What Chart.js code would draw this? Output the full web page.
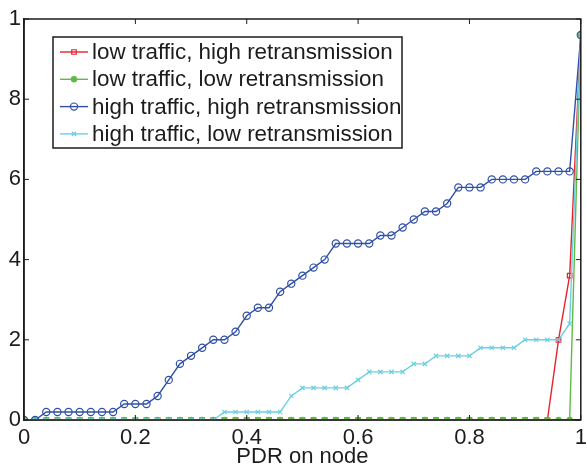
<!DOCTYPE html>
<html>
<head>
<meta charset="utf-8">
<script src="https://cdn.jsdelivr.net/npm/chart.js@4/dist/chart.umd.min.js"></script>
<style>
  html, body { margin: 0; padding: 0; background: #fff; }
  #wrap { width: 586px; height: 466px; }
</style>
</head>
<body>
<div id="wrap"><canvas id="pdr-chart" width="586" height="466"></canvas></div>
<script>
// PDR on node, x values
var pdrValues = [0, 0.02, 0.04, 0.06, 0.08, 0.1, 0.12, 0.14, 0.16, 0.18,
    0.2, 0.22, 0.24, 0.26, 0.28, 0.3, 0.32, 0.34, 0.36, 0.38,
    0.4, 0.42, 0.44, 0.46, 0.48, 0.5, 0.52, 0.54, 0.56, 0.58,
    0.6, 0.62, 0.64, 0.66, 0.68, 0.7, 0.72, 0.74, 0.76, 0.78,
    0.8, 0.82, 0.84, 0.86, 0.88, 0.9, 0.92, 0.94, 0.96, 0.98, 1];

var lowHighRetx = [0, 0, 0, 0, 0, 0, 0, 0, 0, 0,
    0, 0, 0, 0, 0, 0, 0, 0, 0, 0,
    0, 0, 0, 0, 0, 0, 0, 0, 0, 0,
    0, 0, 0, 0, 0, 0, 0, 0, 0, 0,
    0, 0, 0, 0, 0, 0, 0, 0, 0.2, 0.36, 0.96];

var lowLowRetx = [0, 0, 0, 0, 0, 0, 0, 0, 0, 0,
    0, 0, 0, 0, 0, 0, 0, 0, 0, 0,
    0, 0, 0, 0, 0, 0, 0, 0, 0, 0,
    0, 0, 0, 0, 0, 0, 0, 0, 0, 0,
    0, 0, 0, 0, 0, 0, 0, 0, 0, 0, 0.96];

var highHighRetx = [0, 0, 0.02, 0.02, 0.02, 0.02, 0.02, 0.02, 0.02, 0.04,
    0.04, 0.04, 0.06, 0.1, 0.14, 0.16, 0.18, 0.2, 0.2, 0.22,
    0.26, 0.28, 0.28, 0.32, 0.34, 0.36, 0.38, 0.4, 0.44, 0.44,
    0.44, 0.44, 0.46, 0.46, 0.48, 0.5, 0.52, 0.52, 0.54, 0.58,
    0.58, 0.58, 0.6, 0.6, 0.6, 0.6, 0.62, 0.62, 0.62, 0.62, 0.96];

var highLowRetx = [0, 0, 0, 0, 0, 0, 0, 0, 0, 0,
    0, 0, 0, 0, 0, 0, 0, 0, 0.02, 0.02,
    0.02, 0.02, 0.02, 0.02, 0.06, 0.08, 0.08, 0.08, 0.08, 0.08,
    0.1, 0.12, 0.12, 0.12, 0.12, 0.14, 0.14, 0.16, 0.16, 0.16,
    0.16, 0.18, 0.18, 0.18, 0.18, 0.2, 0.2, 0.2, 0.2, 0.24, 0.96];

var seriesLabels = ['low traffic, high retransmission', 'low traffic, low retransmission',
    'high traffic, high retransmission', 'high traffic, low retransmission'];
var seriesColors = ['#e8212b', '#62b946', '#3050a6', '#6ccfe2'];
var xTickValues = [0, 0.2, 0.4, 0.6, 0.8, 1];

var FONT = '"Liberation Sans", Arial, sans-serif';
var INK = '#1c1c1c';

function toPoints(values) {
    var pts = [];
    for (var i = 0; i < values.length; ++i) {
        pts.push({x: pdrValues[i], y: values[i]});
    }
    return pts;
}

var markerStyles = [
    {pointStyle: 'rect', radius: 3.2, fill: 'rgba(0,0,0,0)'},
    {pointStyle: 'circle', radius: 2.6, fill: null},
    {pointStyle: 'circle', radius: 3.6, fill: 'rgba(0,0,0,0)'},
    {pointStyle: 'crossRot', radius: 3, fill: null}
];
var allSeries = [lowHighRetx, lowLowRetx, highHighRetx, highLowRetx];

var datasets = [];
for (var s = 0; s < allSeries.length; ++s) {
    datasets.push({
        label: seriesLabels[s],
        data: toPoints(allSeries[s]),
        borderColor: seriesColors[s],
        borderWidth: 1.4,
        pointStyle: markerStyles[s].pointStyle,
        pointRadius: markerStyles[s].radius,
        pointBorderWidth: 1.2,
        pointBorderColor: seriesColors[s],
        pointBackgroundColor: markerStyles[s].fill || seriesColors[s],
        tension: 0,
        fill: false,
        order: allSeries.length - s   // later series drawn on top, like MATLAB
    });
}

// box around plot, inward ticks and the boxed legend
var frameAndLegend = {
    id: 'frameAndLegend',
    afterDraw: function (chart) {
        var ctx = chart.ctx;
        var a = chart.chartArea;
        var xs = chart.scales.x, ys = chart.scales.y;
        ctx.save();
        ctx.strokeStyle = INK;
        ctx.lineWidth = 1.5;
        ctx.strokeRect(a.left, a.top, a.right - a.left, a.bottom - a.top);
        ctx.lineWidth = 1;
        ctx.beginPath();
        xs.ticks.forEach(function (t) {
            var px = xs.getPixelForValue(t.value);
            ctx.moveTo(px, a.bottom); ctx.lineTo(px, a.bottom - 5);
            ctx.moveTo(px, a.top); ctx.lineTo(px, a.top + 5);
        });
        ys.ticks.forEach(function (t) {
            var py = ys.getPixelForValue(t.value);
            ctx.moveTo(a.left, py); ctx.lineTo(a.left + 5, py);
            ctx.moveTo(a.right, py); ctx.lineTo(a.right - 5, py);
        });
        ctx.stroke();

        // legend
        var box = {left: 53, top: 37, right: 402, bottom: 148};
        ctx.fillStyle = '#fff';
        ctx.fillRect(box.left, box.top, box.right - box.left, box.bottom - box.top);
        ctx.lineWidth = 1.5;
        ctx.strokeStyle = INK;
        ctx.strokeRect(box.left, box.top, box.right - box.left, box.bottom - box.top);
        ctx.font = '22.4px ' + FONT;
        ctx.textBaseline = 'middle';
        ctx.textAlign = 'left';
        for (var i = 0; i < seriesLabels.length; ++i) {
            var rowY = 52 + i * 27.3;
            ctx.strokeStyle = seriesColors[i];
            ctx.lineWidth = 1.4;
            ctx.beginPath();
            ctx.moveTo(60, rowY); ctx.lineTo(88, rowY);
            ctx.stroke();
            ctx.fillStyle = markerStyles[i].fill || seriesColors[i];
            ctx.lineWidth = 1.2;
            Chart.helpers.drawPoint(ctx, {
                pointStyle: markerStyles[i].pointStyle,
                radius: markerStyles[i].radius,
                rotation: 0,
                borderWidth: 1.2
            }, 74, rowY);
            ctx.fillStyle = INK;
            ctx.fillText(seriesLabels[i], 92, rowY + 1);
        }
        ctx.restore();
    }
};

new Chart(document.getElementById('pdr-chart'), {
    type: 'line',
    data: {datasets: datasets},
    options: {
        responsive: false,
        animation: false,
        layout: {padding: {left: 0, right: 3, top: 19, bottom: 0}},
        plugins: {
            legend: {display: false},
            tooltip: {enabled: false}
        },
        scales: {
            x: {
                type: 'linear',
                min: 0,
                max: 1,
                afterBuildTicks: function (scale) {
                    scale.ticks = xTickValues.map(function (v) { return {value: v}; });
                },
                afterFit: function (scale) {
                    scale.height = 46;
                    scale.paddingLeft = 0;
                    scale.paddingRight = 0;
                },
                grid: {display: false, drawTicks: false},
                border: {display: true, color: INK, width: 1.5},
                ticks: {
                    padding: 5,
                    color: INK,
                    maxRotation: 0,
                    autoSkip: false,
                    font: {family: FONT, size: 22},
                    callback: function (v) { return String(Math.round(v * 10) / 10); }
                },
                title: {
                    display: true,
                    text: 'PDR on node',
                    color: INK,
                    font: {family: FONT, size: 22, lineHeight: 0.82},
                    padding: {top: 0, bottom: 0}
                }
            },
            y: {
                type: 'linear',
                min: 0,
                max: 1,
                afterBuildTicks: function (scale) {
                    scale.ticks = xTickValues.map(function (v) { return {value: v}; });
                },
                afterFit: function (scale) {
                    scale.width = 24;
                    scale.paddingTop = 0;
                    scale.paddingBottom = 0;
                },
                grid: {display: false, drawTicks: false},
                border: {display: true, color: INK, width: 1.5},
                ticks: {
                    padding: 3,
                    color: INK,
                    autoSkip: false,
                    font: {family: FONT, size: 22},
                    // the labels 0.2 ... 0.8 are clipped at the left edge, only the last digit shows
                    callback: function (v) {
                        var txt = String(Math.round(v * 10) / 10);
                        return txt.charAt(txt.length - 1);
                    }
                }
            }
        }
    },
    plugins: [frameAndLegend]
});
</script>
</body>
</html>
